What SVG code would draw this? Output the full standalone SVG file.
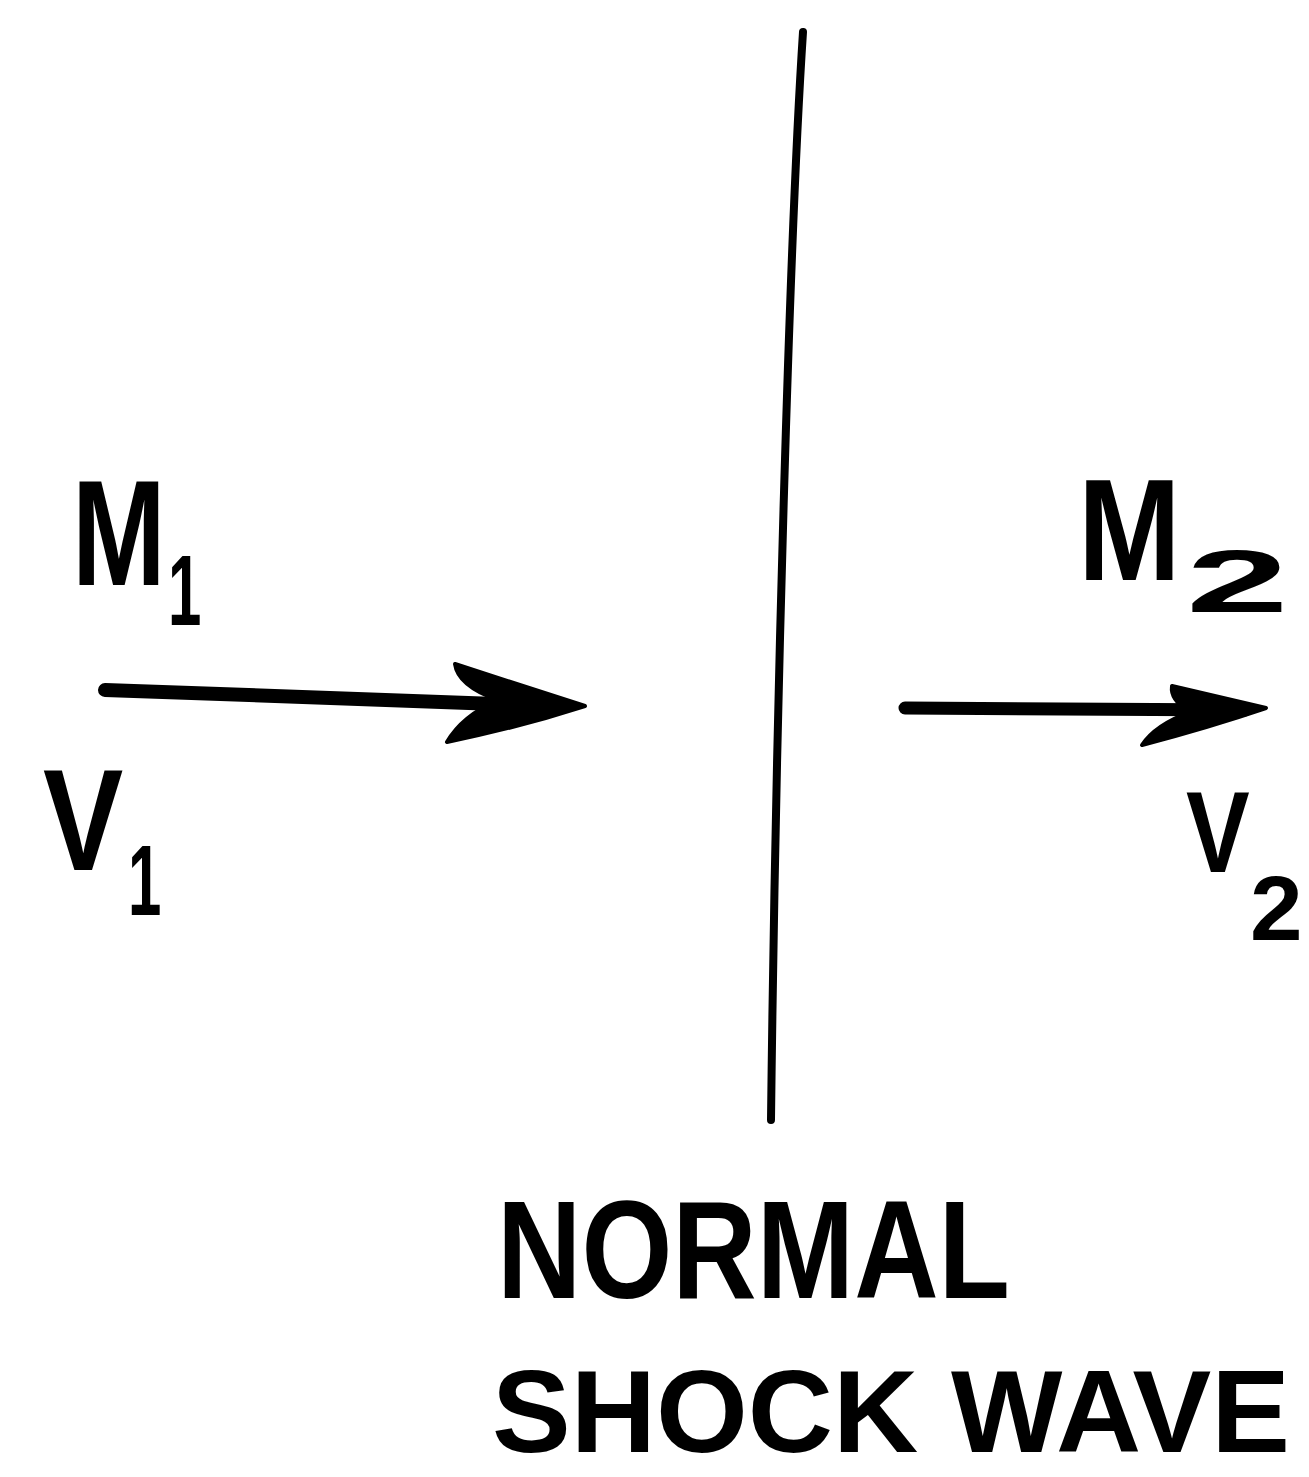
<svg xmlns="http://www.w3.org/2000/svg" width="1309" height="1477" viewBox="0 0 1309 1477">
<style>
.t{font-family:"Liberation Sans",Arial,sans-serif;font-weight:bold;fill:#000}
.ln{fill:none;stroke:#000;stroke-linecap:round;stroke-linejoin:round}
.hd{fill:#000;stroke:#000;stroke-width:4;stroke-linejoin:round}
</style>
<rect width="1309" height="1477" fill="#fff"/>
<g id="shock-line">
<path class="ln" stroke-width="8" d="M803,32 C790,230 776,700 771,1120"/>
</g>
<g id="connectors">
<path class="ln" stroke-width="14" d="M105,690 L555,706"/>
<path class="hd" d="M585,706 L455,664 Q458,686 498,700 Q462,716 447,742 Q520,727 585,706 Z"/>
<path class="ln" stroke-width="13" d="M905,708 L1245,710"/>
<path class="hd" d="M1266,708 L1172,686 Q1170,700 1190,712 Q1155,725 1142,745 Q1210,727 1266,708 Z"/>
</g>
<g id="label-m1">
<text class="t" transform="translate(72,585) scale(0.75,1)" font-size="150">M</text>
<text class="t" transform="translate(168,625) scale(0.6,1)" font-size="100">1</text>
</g>
<g id="label-v1">
<text class="t" transform="translate(43,870) scale(0.83,1)" font-size="145">V</text>
<text class="t" transform="translate(128,915) scale(0.6,1)" font-size="100">1</text>
</g>
<g id="label-m2">
<text class="t" transform="translate(1078,580) scale(0.85,1)" font-size="145">M</text>
<text class="t" transform="translate(1186,612) scale(2.1,1)" font-size="88">2</text>
</g>
<g id="label-v2">
<text class="t" transform="translate(1186,872) scale(0.83,1)" font-size="115">V</text>
<text class="t" transform="translate(1250,940) scale(1.05,1)" font-size="90">2</text>
</g>
<g id="label-normal">
<text class="t" x="497" y="1298" font-size="140" textLength="513" lengthAdjust="spacingAndGlyphs">NORMAL</text>
</g>
<g id="label-shock-wave">
<text class="t" x="492" y="1452" font-size="116" textLength="798" lengthAdjust="spacingAndGlyphs">SHOCK WAVE</text>
</g>
</svg>
